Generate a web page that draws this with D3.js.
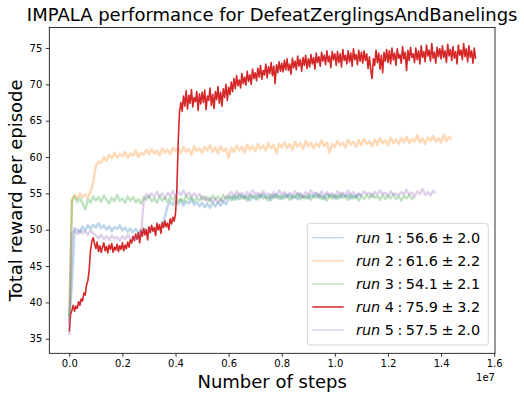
<!DOCTYPE html>
<html>
<head>
<meta charset="utf-8">
<script src="https://cdn.jsdelivr.net/npm/d3@7"></script>
<style>
  body { margin: 0; background: #fff; }
  svg { font-family: "DejaVu Sans", sans-serif; }
</style>
</head>
<body>
<div id="chart"></div>
<script>
const sampleStep = [1e5, 1e5, 1e5, 5e4, 1e5];

const run1Reward = [37.5, 42.5, 50.2, 50.0, 49.6, 50.4, 49.9, 50.6, 50.1, 50.7, 50.3,
  50.9, 50.2, 50.6, 50.0, 50.5, 49.8, 50.4, 50.1, 50.6, 49.9,
  50.3, 49.7, 50.2, 49.6, 50.1, 49.5, 50.0, 49.7, 50.2, 49.8,
  50.3, 49.9, 50.4, 50.0, 50.6, 51.8, 53.2, 53.9, 53.4, 54.0,
  53.5, 54.1, 53.3, 53.9, 53.6, 54.2, 53.4, 53.8, 53.2, 53.7,
  53.1, 53.6, 53.0, 53.7, 53.2, 53.8, 53.3, 53.9, 53.5, 54.3,
  54.6, 54.1, 54.7, 54.2, 54.8, 54.3, 54.6, 54.0, 54.7, 54.2,
  54.8, 54.4, 54.9, 54.3, 54.6, 54.1, 54.8, 54.4, 54.7, 54.2,
  54.9, 54.5, 54.8, 54.3, 54.7, 54.2, 54.9, 54.4, 54.6, 54.3,
  54.8, 54.5, 55.0, 54.4, 54.7, 54.2, 54.9, 54.5, 54.8, 54.3,
  54.7, 54.4, 54.9, 54.5, 54.8, 54.3, 54.7, 54.4, 54.9, 54.6];

const run2Reward = [37.0, 54.2, 54.8, 54.3, 55.0, 54.5, 54.9, 54.4, 55.2, 56.5, 58.8,
  59.4, 59.2, 60.0, 59.5, 60.3, 59.8, 60.6, 59.9, 60.4, 60.1,
  60.7, 59.9, 60.5, 60.2, 60.9, 60.0, 60.6, 60.3, 61.0, 60.4,
  61.1, 60.5, 60.9, 60.2, 61.2, 60.6, 61.0, 60.4, 61.3, 60.8,
  61.2, 60.5, 61.4, 60.7, 61.1, 60.3, 61.5, 60.8, 61.2, 60.6,
  61.4, 60.9, 61.6, 60.7, 61.3, 60.5, 61.5, 60.8, 61.2, 59.9,
  61.3, 60.7, 61.6, 60.9, 61.4, 60.6, 61.7, 61.0, 61.5, 60.8,
  61.8, 61.1, 61.6, 60.9, 61.9, 61.2, 61.7, 60.5, 61.8, 61.3,
  62.0, 61.2, 61.8, 61.0, 62.1, 61.4, 61.9, 61.1, 62.2, 61.5,
  62.0, 61.2, 61.9, 61.4, 62.3, 61.5, 62.0, 60.6, 61.8, 61.4,
  62.2, 61.6, 62.0, 61.3, 62.4, 61.7, 62.1, 61.4, 62.3, 61.6,
  62.5, 61.8, 62.2, 61.5, 62.4, 61.7, 62.6, 61.9, 62.3, 61.6,
  62.7, 61.9, 62.4, 61.8, 62.6, 62.0, 62.8, 61.9, 62.5, 62.1,
  63.0, 62.0, 62.6, 61.8, 62.7, 62.2, 62.9, 62.1, 62.6, 62.0,
  63.1, 62.2, 62.8, 62.4];

const run3Reward = [38.0, 53.9, 54.6, 53.8, 54.4, 53.6, 52.8, 54.2, 53.7, 54.6, 54.0,
  54.5, 53.8, 54.7, 54.1, 53.6, 54.4, 53.9, 54.8, 54.0, 54.3,
  53.7, 54.6, 54.0, 54.5, 53.8, 54.2, 53.6, 54.5, 54.1, 54.7,
  53.9, 54.3, 53.7, 54.6, 54.0, 54.4, 53.8, 54.5, 54.1, 54.6,
  53.9, 54.3, 53.8, 54.7, 54.2, 54.5, 53.9, 54.4, 54.0, 54.6,
  54.1, 54.5, 53.9, 54.7, 54.2, 54.6, 54.0, 54.8, 54.3, 54.6,
  54.1, 54.7, 54.2, 54.9, 54.3, 54.6, 54.0, 54.8, 54.4, 54.7,
  54.1, 54.9, 54.3, 54.6, 54.0, 54.8, 54.4, 54.9, 54.2, 54.7,
  54.3, 54.8, 54.1, 54.6, 54.4, 55.0, 54.2, 54.7, 54.3, 54.8,
  54.1, 54.7, 54.4, 54.9, 54.2, 54.6, 54.0, 54.8, 54.3, 54.7,
  54.2, 54.9, 54.4, 54.6, 54.1, 54.8, 54.3, 54.7, 54.0, 54.6,
  54.2, 54.8, 54.3, 54.9, 54.4, 54.6, 54.1, 54.8, 54.2, 54.7,
  54.3, 54.9, 54.2, 54.6, 54.0, 54.7, 54.3, 54.8, 54.2, 54.6];

const run4Reward = [36.0, 38.4, 38.9, 39.6, 38.8, 39.5, 39.2, 40.1, 39.6, 40.5,
  40.2, 41.3, 41.0, 42.4, 43.0, 44.5, 47.2, 48.4, 48.9, 48.1,
  47.4, 48.3, 47.0, 47.8, 46.9, 47.6, 48.2, 47.1, 47.7, 46.8,
  47.9, 47.3, 48.1, 46.9, 47.6, 47.2, 48.0, 47.0, 47.8, 47.3,
  48.2, 47.1, 47.9, 47.4, 48.3, 47.6, 48.6, 48.2, 49.1, 48.5,
  49.4, 48.7, 49.6, 48.2, 49.9, 49.1, 50.2, 49.3, 50.0, 48.6,
  50.4, 49.6, 50.6, 49.8, 50.3, 49.2, 50.9, 50.0, 50.7, 49.5,
  51.0, 50.3, 51.2, 50.4, 50.9, 50.0, 51.5, 50.8, 51.7, 51.2,
  52.2, 55.5, 62.0, 66.2, 67.5, 66.3, 68.4, 67.0, 69.1, 66.6,
  68.5, 67.4, 69.3, 66.9, 68.2, 67.6, 69.0, 66.4, 68.7, 67.3,
  68.9, 67.5, 69.2, 66.5, 68.4, 67.8, 69.5, 67.1, 68.6, 66.7,
  69.0, 67.9, 69.7, 67.4, 68.9, 67.0, 69.4, 68.2, 70.0, 67.8,
  69.6, 68.6, 70.3, 69.0, 70.8, 69.4, 71.2, 69.8, 70.6, 69.5,
  71.5, 70.1, 71.0, 69.9, 71.8, 70.4, 71.3, 70.0, 72.1, 70.8,
  71.6, 70.5, 72.2, 71.0, 72.6, 70.7, 71.9, 71.3, 72.8, 70.9,
  72.4, 71.5, 73.0, 71.2, 72.5, 70.1, 72.7, 71.6, 73.1, 71.8,
  72.9, 71.7, 73.3, 72.0, 73.5, 71.9, 72.8, 71.4, 73.6, 72.3,
  73.2, 72.0, 73.9, 72.5, 73.4, 71.8, 73.7, 72.6, 74.0, 72.2,
  73.5, 72.4, 74.1, 72.8, 73.7, 72.1, 74.3, 73.0, 73.8, 72.5,
  74.4, 73.2, 74.0, 72.7, 74.6, 73.1, 73.9, 72.3, 74.5, 73.4,
  74.2, 72.6, 74.5, 73.0, 74.2, 72.4, 74.8, 73.3, 74.0, 72.8,
  74.6, 73.1, 74.3, 72.5, 74.9, 73.4, 74.1, 72.7, 74.7, 73.2,
  74.4, 72.9, 74.6, 73.3, 74.2, 72.2, 73.8, 72.0, 70.8, 73.5,
  72.6, 74.7, 73.0, 74.3, 72.1, 74.0, 71.6, 74.4, 73.2, 74.8,
  73.0, 74.6, 72.8, 75.0, 73.4, 74.3, 72.6, 74.9, 73.6, 74.1,
  72.9, 75.2, 73.5, 74.4, 71.9, 74.7, 73.3, 75.1, 73.7, 74.2,
  73.0, 75.0, 73.4, 74.6, 72.8, 75.3, 73.7, 74.5, 73.1, 75.4,
  73.9, 74.7, 73.2, 75.6, 73.6, 74.4, 72.9, 75.1, 73.8, 74.9,
  73.5, 75.3, 73.7, 74.6, 73.0, 75.5, 73.9, 74.8, 73.3, 75.2,
  73.6, 74.5, 72.8, 75.4, 74.0, 74.7, 73.4, 75.6, 73.8, 74.9,
  73.1, 75.3, 73.7, 74.6, 72.9, 75.0, 73.5];

const run5Reward = [35.5, 49.5, 49.9, 49.4, 50.0, 49.5, 49.8, 49.3, 49.9, 49.5, 49.2,
  48.8, 49.3, 48.7, 49.1, 48.6, 49.2, 48.8, 49.0, 48.5, 49.1,
  48.7, 49.3, 48.8, 49.0, 48.6, 49.2, 49.4, 53.8, 54.9, 54.4,
  55.0, 54.5, 55.2, 54.6, 55.0, 54.3, 55.1, 54.7, 55.3, 54.6,
  55.2, 54.8, 55.4, 54.7, 55.1, 54.5, 55.0, 54.6, 54.9, 54.2,
  54.6, 53.9, 54.4, 53.8, 54.3, 53.7, 54.2, 53.9, 54.5, 54.8,
  55.2, 54.6, 55.3, 54.8, 55.1, 54.5, 55.2, 54.7, 55.4, 54.9,
  55.1, 54.6, 55.3, 54.8, 55.0, 54.5, 55.2, 54.7, 55.4, 54.9,
  55.2, 54.6, 55.1, 54.7, 55.3, 54.8, 55.0, 54.5, 55.2, 54.8,
  55.4, 54.9, 55.1, 54.6, 55.3, 54.7, 55.2, 54.8, 55.0, 54.6,
  55.3, 54.9, 55.1, 54.7, 55.4, 54.8, 55.2, 54.6, 55.0, 54.7,
  55.3, 54.9, 55.1, 54.5, 55.2, 54.8, 55.4, 54.9, 55.1, 54.6,
  55.3, 54.8, 55.0, 54.7, 55.2, 54.9, 55.5, 54.8, 55.1, 54.6,
  55.3, 54.9, 55.6, 54.8, 55.2, 54.7, 55.4, 55.0];

const runNames = ["1", "2", "3", "4", "5"];
const runMeans = ["56.6", "61.6", "54.1", "75.9", "57.5"];
const runStds = ["2.0", "2.2", "2.1", "3.2", "2.0"];
const runColors = ["#1f77b4", "#ff7f0e", "#2ca02c", "#d62728", "#9467bd"];
const runAlpha = [0.3, 0.3, 0.3, 1, 0.3];

const xTicks = [0, 0.2e7, 0.4e7, 0.6e7, 0.8e7, 1.0e7, 1.2e7, 1.4e7, 1.6e7];
const yTicks = [35, 40, 45, 50, 55, 60, 65, 70, 75];

const allRuns = [run1Reward, run2Reward, run3Reward, run4Reward, run5Reward];

const W = 524, H = 399;
const margin = { top: 27.5, right: 29, bottom: 45.7, left: 49.3 };
const width = W - margin.left - margin.right,
      height = H - margin.top - margin.bottom;

const svg = d3.select("#chart").append("svg")
    .attr("width", W)
    .attr("height", H);

const g = svg.append("g")
    .attr("transform", "translate(" + margin.left + "," + margin.top + ")");

const x = d3.scaleLinear().domain([-0.753e6, 16.03e6]).range([0, width]);
const y = d3.scaleLinear().domain([33.0, 77.82]).range([height, 0]);

g.append("defs").append("clipPath").attr("id", "clip")
  .append("rect").attr("width", width).attr("height", height);

// one path per run, in plotting order
g.append("g").attr("clip-path", "url(#clip)")
  .selectAll("path")
  .data(allRuns)
  .enter()
  .append("path")
    .attr("d", function(run, r) {
      return d3.line()
        .x(function(d, i) { return x(i * sampleStep[r]); })
        .y(function(d) { return y(d); })(run);
    })
    .attr("fill", "none")
    .attr("stroke", function(d, i) { return runColors[i]; })
    .attr("stroke-opacity", function(d, i) { return runAlpha[i]; })
    .attr("stroke-width", function(d, i) { return runAlpha[i] < 1 ? 2.4 : 1.6; })
    .attr("stroke-linejoin", "round");

// axes
const xAxis = g.append("g")
    .attr("transform", "translate(0," + height + ")")
    .call(d3.axisBottom(x).tickValues(xTicks).tickSize(3.5).tickPadding(3.5)
      .tickFormat(function(d) { return (d / 1e7).toFixed(1); }));

const yAxis = g.append("g")
    .call(d3.axisLeft(y).tickValues(yTicks).tickSize(3.5).tickPadding(3.5));

[xAxis, yAxis].forEach(function(a) {
  a.select(".domain").remove();
  a.selectAll(".tick line").attr("stroke", "#000").attr("stroke-width", 0.8);
  a.selectAll(".tick text").attr("fill", "#000")
    .style("font-size", "10px").style("font-family", "DejaVu Sans");
});

// frame
g.append("rect")
    .attr("width", width).attr("height", height)
    .attr("fill", "none").attr("stroke", "#000").attr("stroke-width", 0.8);

// offset text
g.append("text")
    .attr("x", width).attr("y", height + 28)
    .attr("text-anchor", "end")
    .style("font-size", "10px")
    .text("1e7");

// labels
svg.append("text")
    .attr("x", margin.left + width / 2).attr("y", 21)
    .attr("text-anchor", "middle")
    .style("font-size", "18px")
    .text("IMPALA performance for DefeatZerglingsAndBanelings");

svg.append("text")
    .attr("x", margin.left + width / 2).attr("y", 388)
    .attr("text-anchor", "middle")
    .style("font-size", "18px")
    .text("Number of steps");

svg.append("text")
    .attr("transform", "rotate(-90)")
    .attr("x", -(margin.top + height / 2)).attr("y", 21.5)
    .attr("text-anchor", "middle")
    .style("font-size", "18px")
    .text("Total reward per episode");

// legend
const legend = svg.append("g").attr("transform", "translate(307.3,223.3)");
legend.append("rect")
    .attr("width", 181).attr("height", 121.7)
    .attr("rx", 3)
    .attr("fill", "#fff").attr("fill-opacity", 0.8)
    .attr("stroke", "#ccc").attr("stroke-width", 0.8);

const rows = legend.selectAll(".row")
  .data(runNames)
  .enter()
  .append("g")
    .attr("transform", function(d, i) { return "translate(0," + (14.4 + i * 23.1) + ")"; });

rows.append("line")
    .attr("x1", 5).attr("x2", 36.4)
    .attr("stroke", function(d, i) { return runColors[i]; })
    .attr("stroke-opacity", function(d, i) { return runAlpha[i]; })
    .attr("stroke-width", 1.5);

const label = rows.append("text")
    .attr("x", 48.7).attr("y", 5)
    .style("font-size", "14.4px");
label.append("tspan").style("font-style", "italic").text("run");
label.append("tspan").attr("dx", 4.5).text(function(d, i) {
  return d + "\u2005:\u2005" + runMeans[i] + "\u2005\u00b1\u2005" + runStds[i];
});
</script>
</body>
</html>
